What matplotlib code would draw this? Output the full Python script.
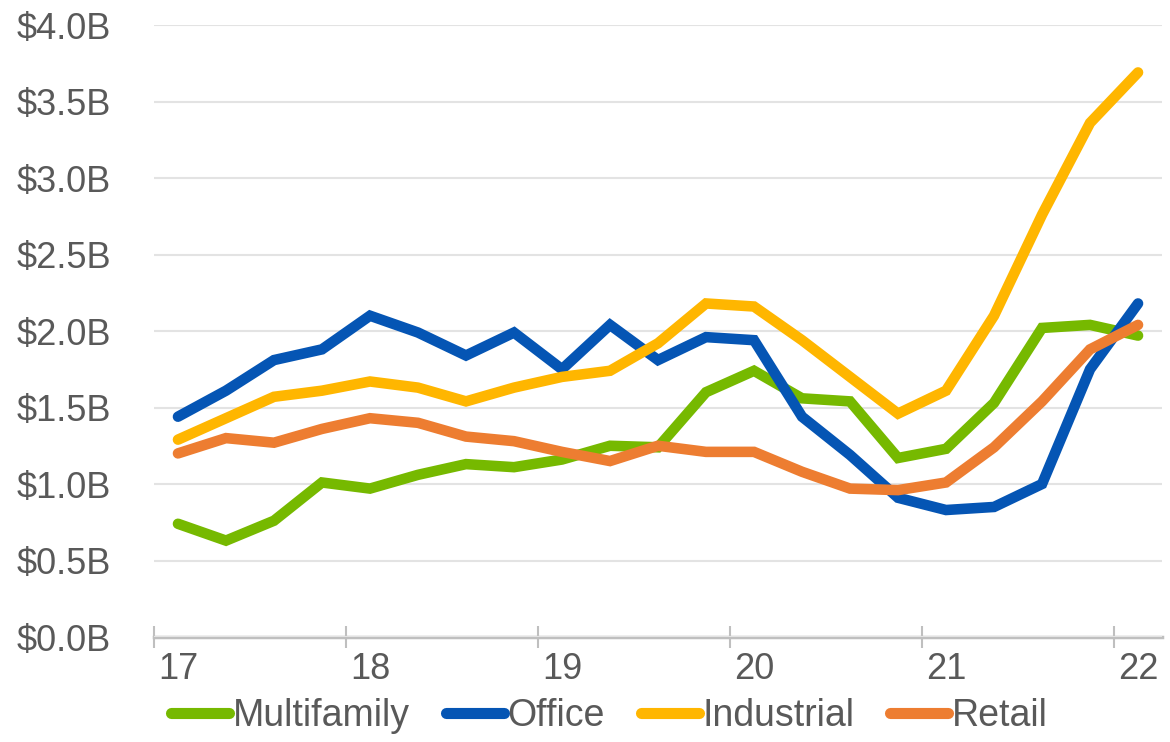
import numpy as np
import matplotlib.pyplot as plt
from matplotlib.ticker import FixedLocator, FuncFormatter

# quarterly volume, $B, 17Q1 .. 22Q1
quarters = np.arange(21)
year_labels = ["17", "18", "19", "20", "21", "22"]

multifamily = [0.74, 0.63, 0.76, 1.01, 0.97, 1.06, 1.13, 1.11, 1.16, 1.25, 1.24,
               1.60, 1.74, 1.56, 1.54, 1.17, 1.23, 1.53, 2.02, 2.04, 1.97]
office = [1.44, 1.61, 1.81, 1.88, 2.10, 1.99, 1.84, 1.99, 1.75, 2.04, 1.81,
          1.96, 1.94, 1.44, 1.19, 0.91, 0.83, 0.85, 1.00, 1.75, 2.18]
industrial = [1.29, 1.43, 1.57, 1.61, 1.67, 1.63, 1.54, 1.63, 1.70, 1.74, 1.92,
              2.18, 2.16, 1.94, 1.70, 1.46, 1.61, 2.10, 2.76, 3.36, 3.69]
retail = [1.20, 1.30, 1.27, 1.36, 1.43, 1.40, 1.31, 1.28, 1.21, 1.15, 1.25,
          1.21, 1.21, 1.08, 0.97, 0.96, 1.01, 1.24, 1.54, 1.88, 2.04]

series = [("Multifamily", multifamily, "#76b900"),
          ("Office", office, "#0555b4"),
          ("Industrial", industrial, "#ffb600"),
          ("Retail", retail, "#ed7d31")]

plt.rcParams['font.family'] = ['Liberation Sans', 'DejaVu Sans']
txt = "#595959"
fs = 26

fig = plt.figure(figsize=(11.7, 7.42), dpi=100)
ax = fig.add_axes([0.1316, 0.1415, 0.8616, 0.8248])

for name, vals, col in series:
    ax.plot(quarters, vals, color=col, lw=7.6, solid_capstyle="round",
            solid_joinstyle="miter", label=name)

ax.set_xlim(-0.5, 20.5)
ax.set_ylim(0, 4.0)
ax.set_yticks(np.arange(0, 4.01, 0.5))
ax.yaxis.set_major_formatter(FuncFormatter(lambda v, p: f"${v:.1f}B"))
ax.grid(axis="y", color="#e3e3e3", lw=1.5)
ax.set_axisbelow(True)

# year boundaries get tick marks, year labels sit on the first quarter
ax.xaxis.set_major_locator(FixedLocator(np.arange(-0.5, 21, 4)))
ax.xaxis.set_major_formatter(FuncFormatter(lambda v, p: ""))
ax.xaxis.set_minor_locator(FixedLocator(np.arange(0, 21, 4)))
ax.set_xticklabels(year_labels, minor=True)
ax.tick_params(axis="x", which="major", direction="inout", length=16,
               width=1.5, color="#bfbfbf")
ax.tick_params(axis="x", which="minor", length=0, pad=11,
               labelsize=fs, labelcolor=txt)
ax.tick_params(axis="y", length=0, pad=31, labelsize=fs, labelcolor=txt)

for s in ["top", "right", "left"]:
    ax.spines[s].set_visible(False)
ax.spines["bottom"].set_color("#bfbfbf")
ax.spines["bottom"].set_linewidth(2.5)
ax.spines["bottom"].set_zorder(0.5)

leg = fig.legend(loc="lower center", bbox_to_anchor=(0.521, -0.035), ncol=4,
                 frameon=False, fontsize=27, handlelength=1.55,
                 handletextpad=0.1, columnspacing=0.95, labelcolor=txt)
for h in leg.get_lines():
    h.set_linewidth(8)
    h.set_solid_capstyle("round")

fig.savefig("out.png", dpi=100)
